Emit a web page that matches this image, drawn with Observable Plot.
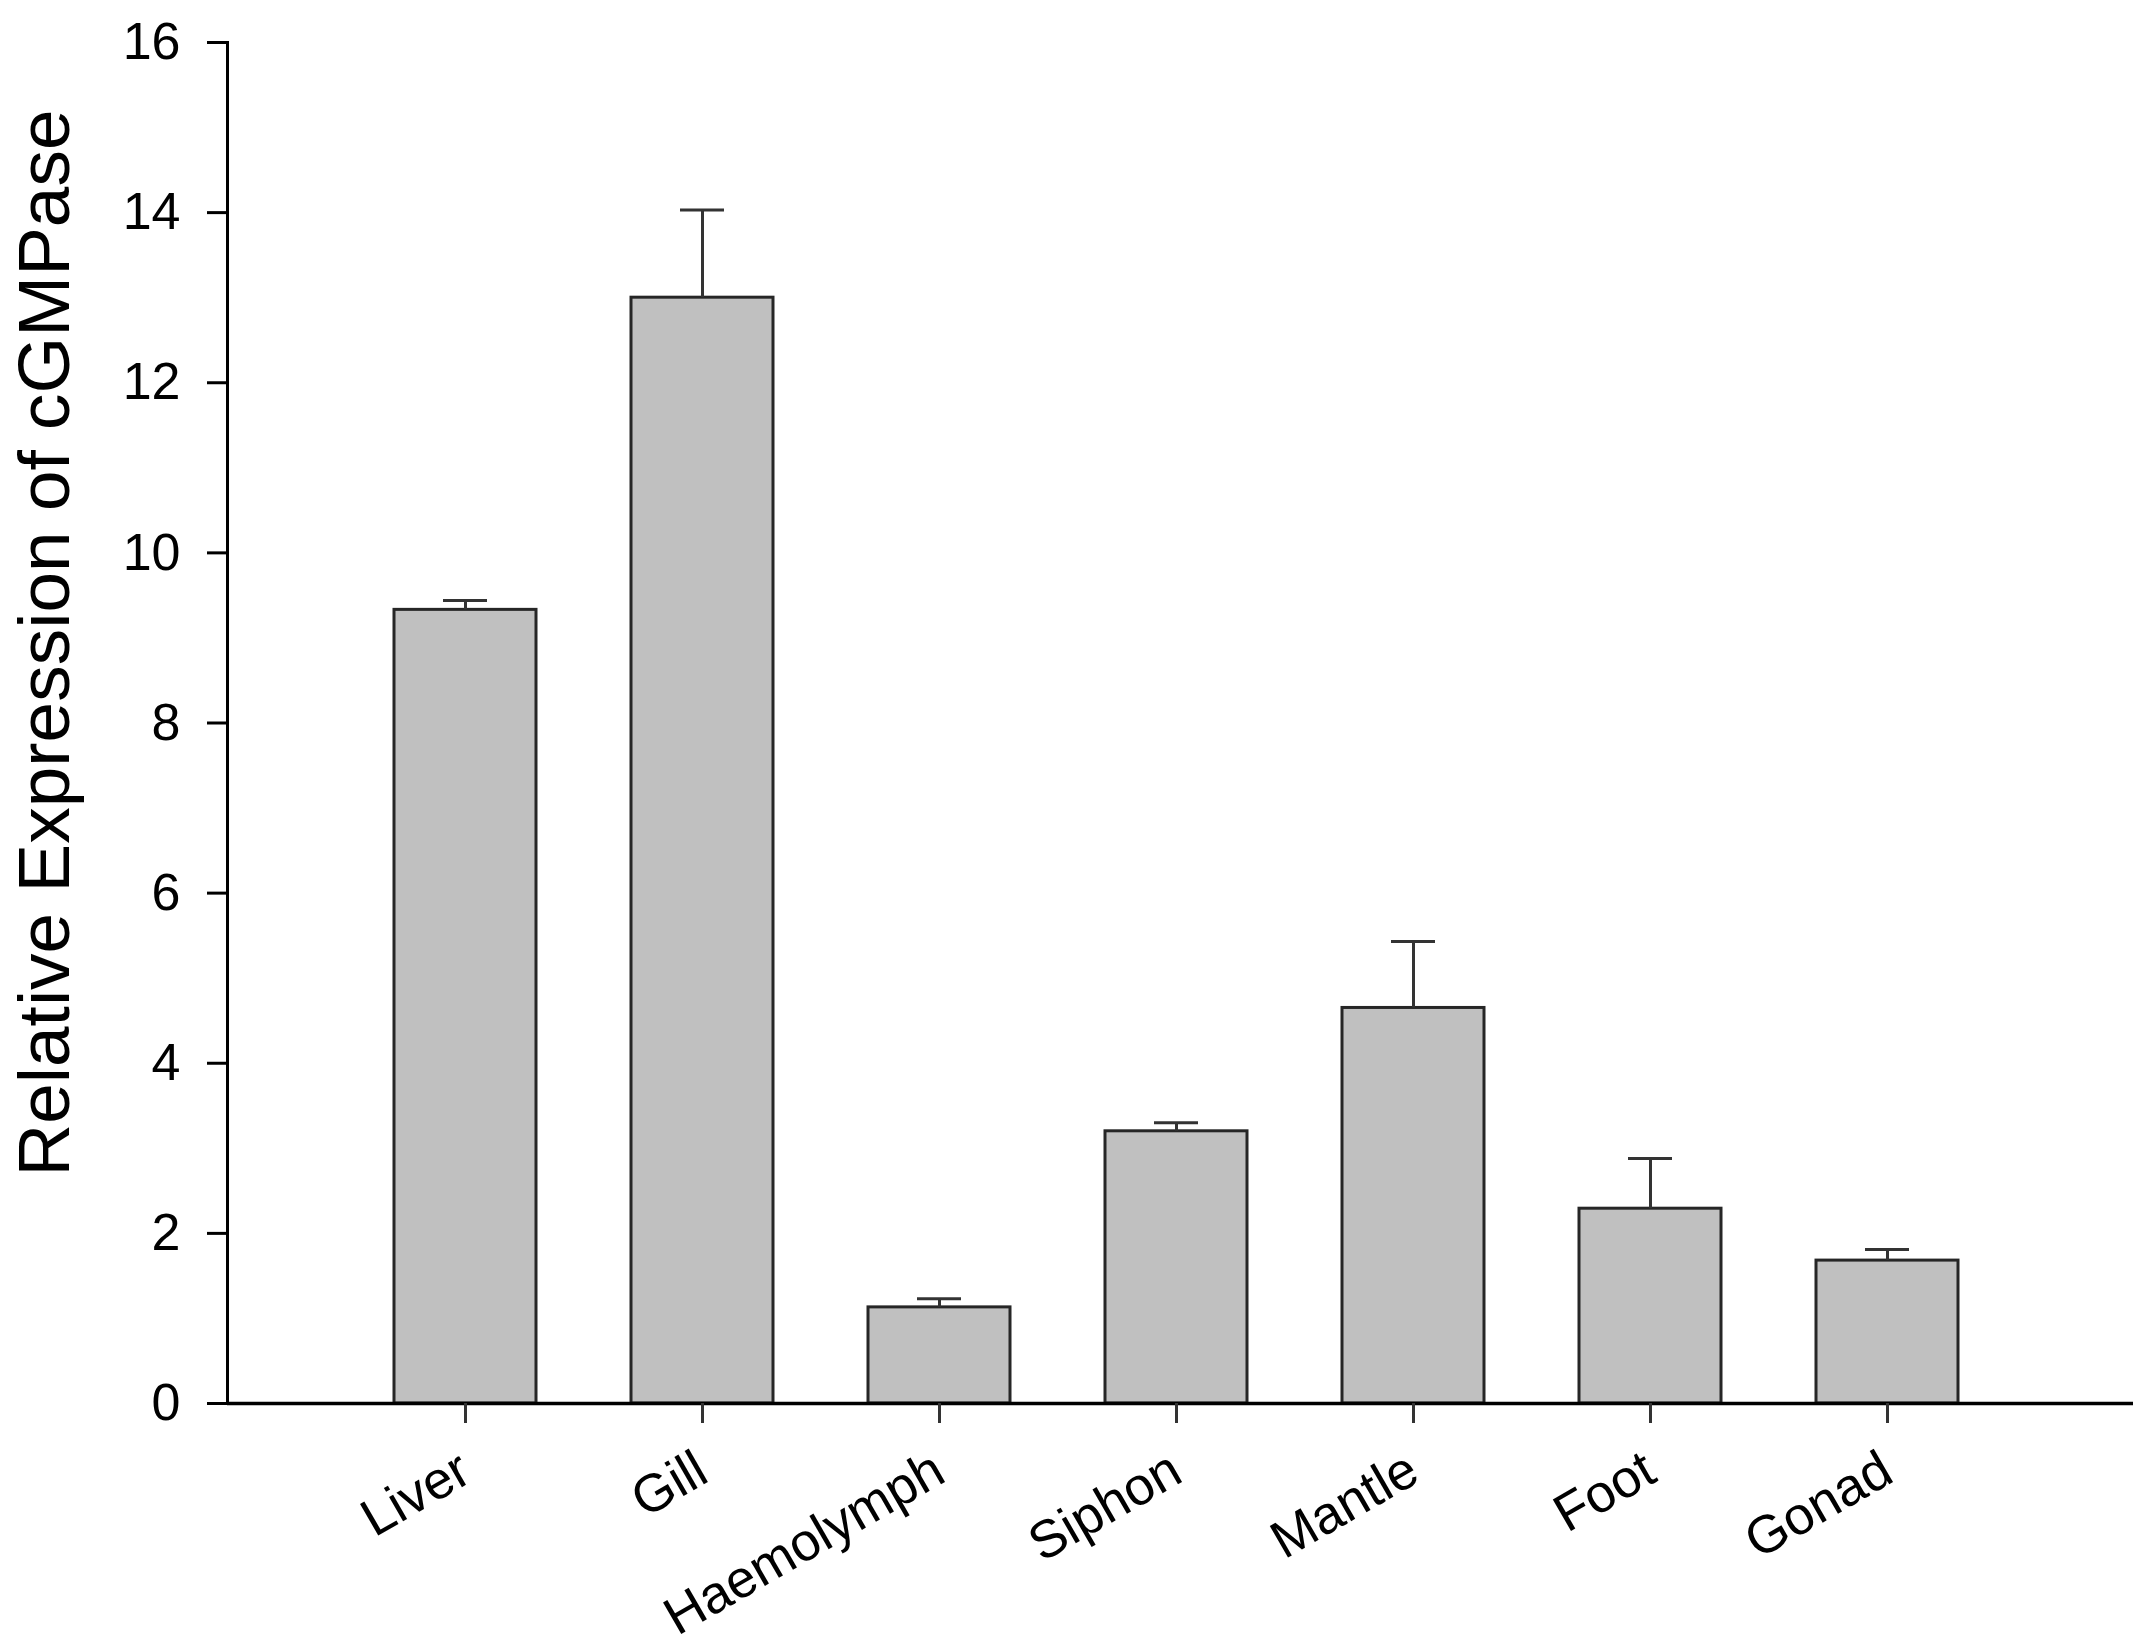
<!DOCTYPE html>
<html>
<head>
<meta charset="utf-8">
<script src="https://cdn.jsdelivr.net/npm/d3@7"></script>
<script src="https://cdn.jsdelivr.net/npm/@observablehq/plot@0.6"></script>
<style>
  html, body { margin: 0; padding: 0; background: white; }
  #chart { width: 2144px; height: 1650px; }
</style>
</head>
<body>
<div id="chart"></div>
<script>
const tissues = ["Liver", "Gill", "Haemolymph", "Siphon", "Mantle", "Foot", "Gonad"];
const means = [9.33, 13.0, 1.13, 3.20, 4.65, 2.29, 1.68];
const errors = [0.11, 1.03, 0.10, 0.10, 0.78, 0.59, 0.13];
const yTicks = [0, 2, 4, 6, 8, 10, 12, 14, 16];
const yLabel = "Relative Expression of cGMPase";

const data = tissues.map((t, i) => ({tissue: t, mean: means[i], top: means[i] + errors[i]}));

const chart = Plot.plot({
  width: 2144,
  height: 1650,
  marginLeft: 227,
  marginRight: 11,
  marginTop: 42,
  marginBottom: 247,
  style: {fontFamily: "'Liberation Sans', Arial, sans-serif", background: "white", color: "black"},
  x: {domain: tissues, paddingInner: 0.4, paddingOuter: 0.72, align: 0.488, label: null},
  y: {domain: [0, 16], label: null},
  marks: [
    Plot.barY(data, {x: "tissue", y: "mean", fill: "#c0c0c0", stroke: "#262626", strokeWidth: 3}),
    Plot.ruleX(data, {x: "tissue", y1: "mean", y2: "top", stroke: "#333", strokeWidth: 3}),
    Plot.tickY(data, {x: "tissue", y: "top", stroke: "#333", strokeWidth: 3, insetLeft: 49, insetRight: 49}),
    Plot.ruleY([0], {stroke: "black", strokeWidth: 3.5}),
    Plot.frame({anchor: "left", stroke: "black", strokeWidth: 3}),
    Plot.axisY({ticks: yTicks, tickSize: 20, tickPadding: 27, fontSize: 52, label: null, color: "black", strokeWidth: 3}),
    Plot.axisX({tickSize: 20, tickPadding: 42, tickRotate: -30, fontSize: 53, label: null, color: "black", stroke: "#333", strokeWidth: 3}),
    Plot.text([yLabel], {text: d => d, frameAnchor: "left", rotate: -90, textAnchor: "middle", lineAnchor: "bottom", dx: -159, dy: -80, fontSize: 73, fill: "black"})
  ]
});
document.getElementById("chart").appendChild(chart);
</script>
</body>
</html>
